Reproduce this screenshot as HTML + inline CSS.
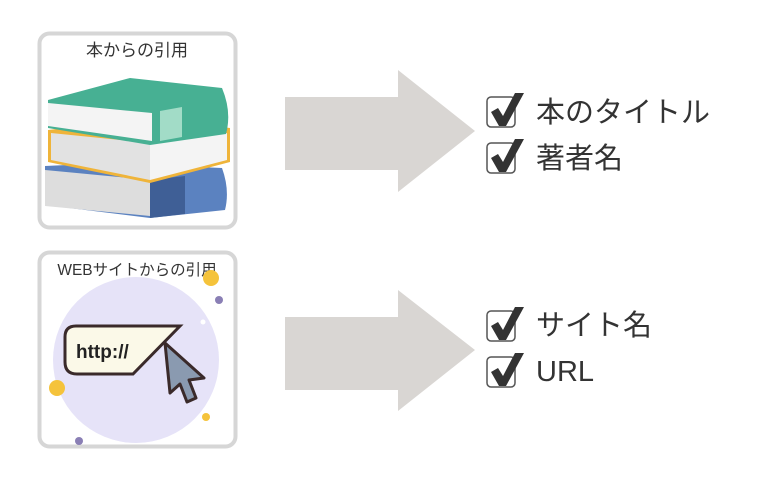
<!DOCTYPE html>
<html><head><meta charset="utf-8"><style>
body{margin:0;background:#fff;}
svg{display:block}
text{font-family:"Liberation Sans","Noto Sans CJK JP",sans-serif;}
</style></head><body>
<svg width="760" height="500" viewBox="0 0 760 500">
<!-- panel 1 -->
<rect x="39.5" y="33.5" width="196" height="194" rx="10" fill="#fff" stroke="#d6d6d6" stroke-width="4"/>
<text x="137" y="56" font-size="17" text-anchor="middle" fill="#333">本からの引用</text>
<!-- blue book -->
<path d="M45 166 L110 163 L222 168 Q230 190 225 210 L150 218 L45 205 Z" fill="#5b82c0"/>
<path d="M45 170 L150 180 L150 216 L45 206 Z" fill="#ddd"/>
<path d="M150 180 L185 176 L185 214 L150 218 Z" fill="#3f5f96"/>
<!-- yellow book -->
<path d="M48 130 L150 118 L230 128 L230 162 L150 183 L48 162 Z" fill="#efb43a"/>
<path d="M51 133 L150 143 L150 180 L51 160 Z" fill="#e2e2e2"/>
<path d="M150 143 L227 133 L227 160 L150 180 Z" fill="#f4f4f4"/>
<!-- green book -->
<path d="M48 100 L130 78 L222 88 Q232 112 226 134 L150 145 L48 128 Z" fill="#47b093"/>
<path d="M48 103 L152 113 L152 141 L48 126 Z" fill="#f4f4f4"/>
<path d="M160 111 L182 107 L182 137 L160 141 Z" fill="#a2dcc7"/>
<!-- panel 2 -->
<rect x="39.5" y="252.5" width="196" height="194" rx="10" fill="#fff" stroke="#d6d6d6" stroke-width="4"/>
<circle cx="136" cy="360" r="83" fill="#e6e3f8"/>
<text x="137" y="275" font-size="15.5" text-anchor="middle" fill="#333">WEBサイトからの引用</text>
<circle cx="211" cy="278" r="8" fill="#f5c33b"/>
<circle cx="219" cy="300" r="4" fill="#8a7fb5"/>
<circle cx="57" cy="388" r="8" fill="#f5c33b"/>
<circle cx="206" cy="417" r="4" fill="#f5c33b"/>
<circle cx="79" cy="441" r="4" fill="#8a7fb5"/>
<circle cx="203" cy="322" r="2.5" fill="#fff"/>
<path d="M180 326 L76 326 Q65 326 65 337 L65 362 Q65 374 77 374 L133 374 Z" fill="#fbf9e8" stroke="#3a2a2a" stroke-width="3"/>
<text x="76" y="358" font-size="19" font-weight="bold" fill="#222">http://</text>
<path d="M165 343 L204 378 L189 380 L196 398 L187 402 L180 384 L170 393 Z" fill="#8a9ab0" stroke="#3a2a2a" stroke-width="3" stroke-linejoin="round"/>
<!-- arrows -->
<path d="M285 97 L398 97 L398 70 L475 131 L398 192 L398 170 L285 170 Z" fill="#d9d6d3"/>
<path d="M285 317 L398 317 L398 290 L475 350 L398 411 L398 390 L285 390 Z" fill="#d9d6d3"/>
<!-- checkboxes -->
<g fill="none" stroke="#555" stroke-width="1.5">
<rect x="487" y="97" width="28" height="30" rx="4"/>
<rect x="487" y="143" width="28" height="30" rx="4"/>
<rect x="487" y="311" width="28" height="30" rx="4"/>
<rect x="487" y="357" width="28" height="30" rx="4"/>
</g>
<g fill="#333">
<path d="M491 112 L498 108 L503 116 L515 93 L524 93 L506 126 L499 126 Z"/>
<path d="M491 158 L498 154 L503 162 L515 139 L524 139 L506 172 L499 172 Z"/>
<path d="M491 326 L498 322 L503 330 L515 307 L524 307 L506 340 L499 340 Z"/>
<path d="M491 372 L498 368 L503 376 L515 353 L524 353 L506 386 L499 386 Z"/>
</g>
<g font-size="29" fill="#333">
<text x="536" y="122">本のタイトル</text>
<text x="536" y="168">著者名</text>
<text x="536" y="335">サイト名</text>
<text x="536" y="381">URL</text>
</g>
</svg>
</body></html>
